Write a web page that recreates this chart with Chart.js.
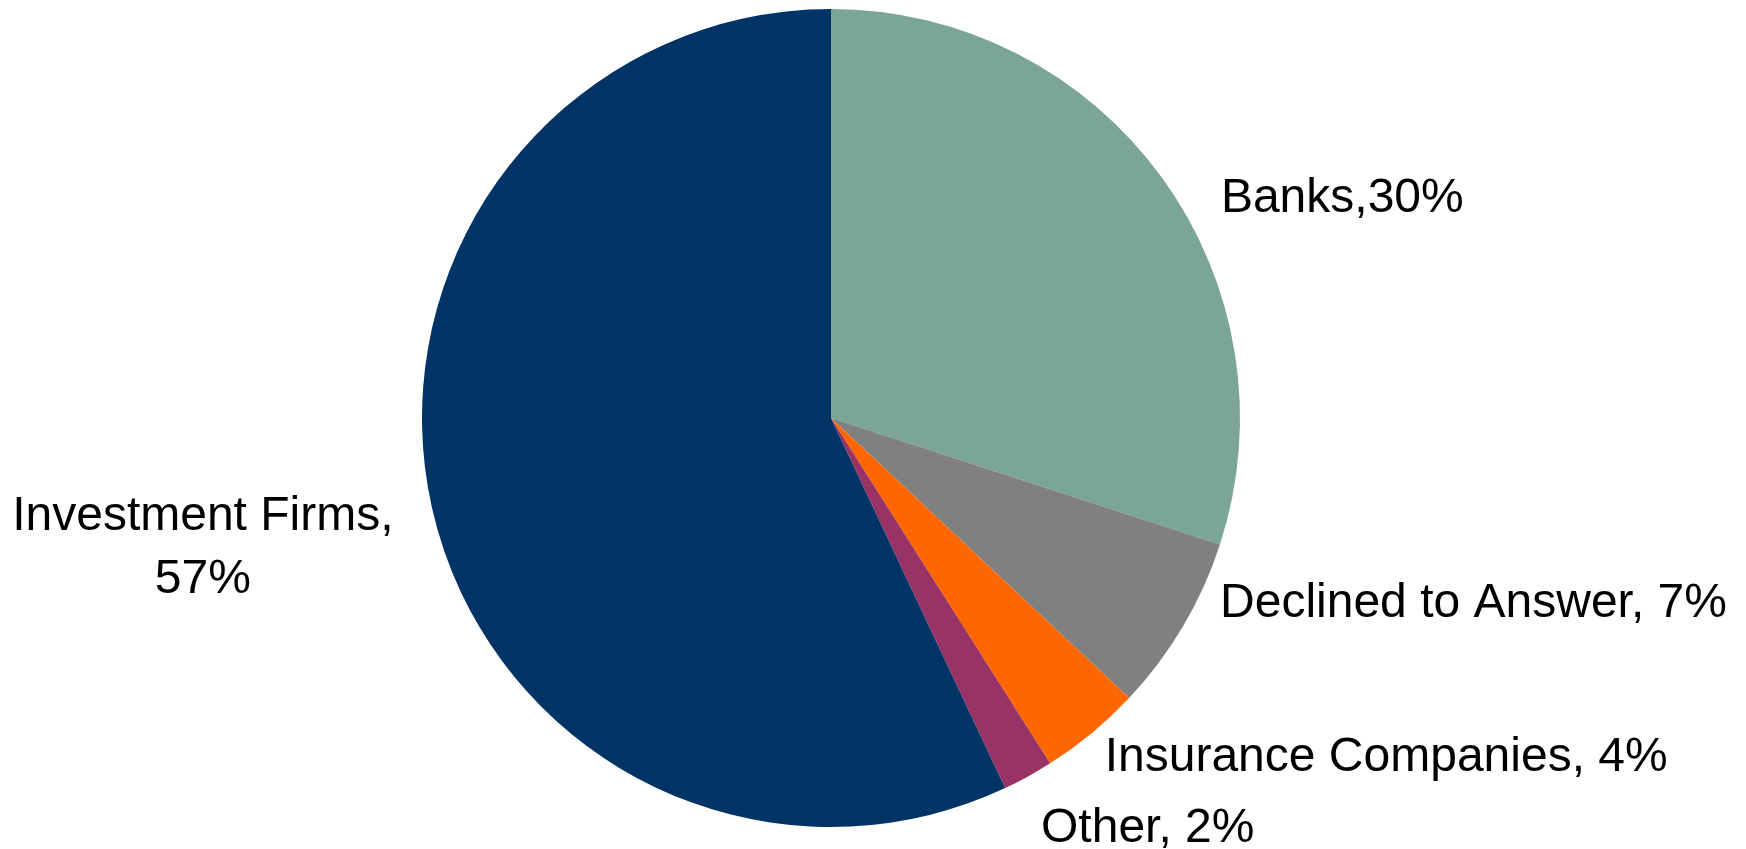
<!DOCTYPE html>
<html>
<head>
<meta charset="utf-8">
<script src="https://cdn.jsdelivr.net/npm/chart.js@4"></script>
<style>
  html, body { margin: 0; padding: 0; background: #fff; }
  #wrap { width: 1746px; height: 849px; }
</style>
</head>
<body>
<div id="wrap"><canvas id="pieChart"></canvas></div>
<script>
// parts du camembert, dans le sens horaire depuis midi
const categories = ["Banks", "Declined to Answer", "Insurance Companies", "Other", "Investment Firms"];
const values = [30, 7, 4, 2, 57];
const labelLines = [
  ["Banks,30%"],
  ["Declined to Answer, 7%"],
  ["Insurance Companies, 4%"],
  ["Other, 2%"],
  ["Investment Firms,", "57%"],
];
const colors = ["#7ba597", "#808080", "#ff6600", "#993366", "#003366"];

// decalage des etiquettes par rapport au bord exterieur de chaque part
const labelOffsets = [
  { dx: 59, dy: 34, align: "left" },
  { dx: 37, dy: -9, align: "left" },
  { dx: 13, dy: 38, align: "left" },
  { dx: 13, dy: 66, align: "left" },
  { dx: -229, dy: 23, align: "center" },
];

const outsideLabels = {
  id: "outsideLabels",
  afterDraw(chart) {
    const ctx = chart.ctx;
    const arcs = chart.getDatasetMeta(0).data;
    ctx.save();
    ctx.fillStyle = "#000";
    ctx.font = '48px "Liberation Sans", Arial, sans-serif';
    ctx.textBaseline = "alphabetic";
    arcs.forEach((arc, i) => {
      const p = arc.getProps(["x", "y", "startAngle", "endAngle", "outerRadius"], true);
      const mid = (p.startAngle + p.endAngle) / 2;
      const ox = p.x + Math.cos(mid) * p.outerRadius;
      const oy = p.y + Math.sin(mid) * p.outerRadius;
      const off = labelOffsets[i];
      ctx.textAlign = off.align;
      labelLines[i].forEach((line, k) => {
        ctx.fillText(line, ox + off.dx, oy + off.dy + k * 63);
      });
    });
    ctx.restore();
  },
};

const ctx = document.getElementById("pieChart").getContext("2d");
new Chart(ctx, {
  type: "pie",
  data: {
    labels: categories,
    datasets: [
      {
        data: values,
        backgroundColor: colors,
        borderWidth: 0,
      },
    ],
  },
  options: {
    responsive: true,
    maintainAspectRatio: false,
    animation: false,
    layout: {
      padding: { left: 422, right: 506, top: 9, bottom: 22 },
    },
    plugins: {
      legend: { display: false },
      tooltip: { enabled: false },
    },
  },
  plugins: [outsideLabels],
});
</script>
</body>
</html>
